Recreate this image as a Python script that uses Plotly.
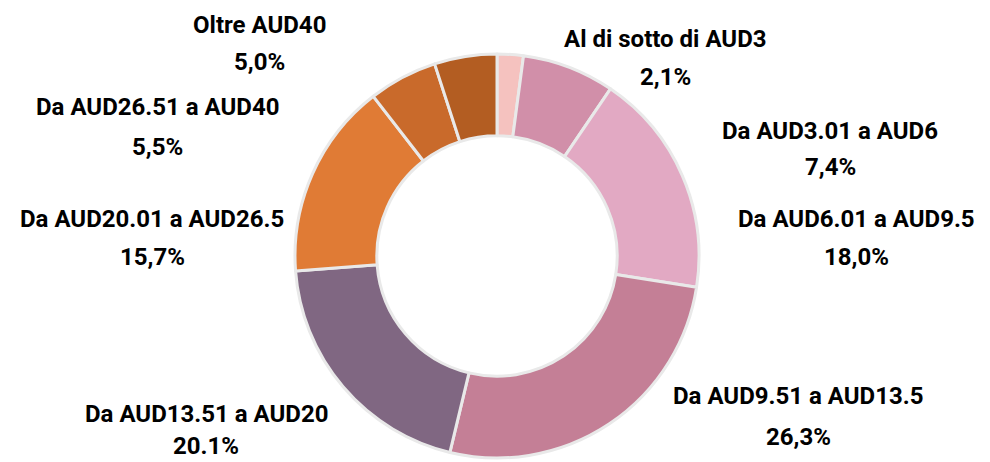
import plotly.graph_objects as go

# price bands (AUD) and share of respondents, clockwise from 12 o'clock
categories = [
    "Al di sotto di AUD3",
    "Da AUD3.01 a AUD6",
    "Da AUD6.01 a AUD9.5",
    "Da AUD9.51 a AUD13.5",
    "Da AUD13.51 a AUD20",
    "Da AUD20.01 a AUD26.5",
    "Da AUD26.51 a AUD40",
    "Oltre AUD40",
]
shares = [2.1, 7.4, 18.0, 26.3, 20.1, 15.7, 5.5, 5.0]
share_labels = ["2,1%", "7,4%", "18,0%", "26,3%", "20.1%", "15,7%", "5,5%", "5,0%"]

colors = ["#F5C2BF", "#D18FA9", "#E2A9C3", "#C47F96",
          "#806782", "#E07B35", "#C96A2B", "#B35D22"]

# label centres in page pixels: (x, y of name line, y of percent line)
label_pos = [(665, 39, 77), (830, 131, 167), (856, 219, 257), (798, 396, 437),
             (206, 414, 446), (152, 219, 257), (157, 107, 147), (259, 25, 62)]

# the page body has an 8px margin, so the figure is drawn 8px in from the corner
OFF = 8
W, H = 990 - OFF, 462 - OFF
FONT = "Roboto, Arial, sans-serif"


def px_x(x):
    return (x - OFF) / W


def px_y(y):
    return 1 - (y - OFF) / H


fig = go.Figure(go.Pie(
    labels=categories,
    values=shares,
    hole=0.595,
    sort=False,
    direction="clockwise",
    rotation=0,
    textinfo="none",
    marker=dict(colors=colors, line=dict(color="#e9e9e9", width=3)),
    domain=dict(x=[px_x(295), px_x(699)], y=[px_y(458), px_y(54)]),
    showlegend=False,
))

for cat, lab, (x, y1, y2) in zip(categories, share_labels, label_pos):
    for txt, y in ((cat, y1), (lab, y2)):
        fig.add_annotation(
            x=px_x(x), y=px_y(y), xref="paper", yref="paper",
            xanchor="center", yanchor="middle",
            text=f"<b>{txt}</b>", showarrow=False,
            font=dict(family=FONT, size=24, color="#000000"),
        )

fig.update_layout(
    width=W, height=H,
    margin=dict(l=0, r=0, t=0, b=0),
    paper_bgcolor="white", plot_bgcolor="white",
)
fig.write_html("out.html")
